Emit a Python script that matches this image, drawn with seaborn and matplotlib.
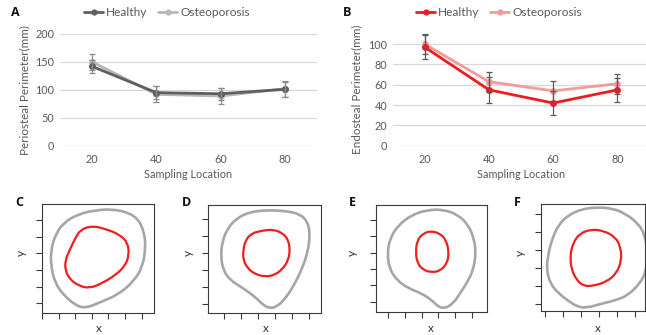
import numpy as np
import pandas as pd
import matplotlib
matplotlib.use("Agg")
import matplotlib.pyplot as plt
from matplotlib.path import Path
from matplotlib.patches import PathPatch
from matplotlib.lines import Line2D
import seaborn as sns

# ---- perimeter along the bone (mean and SD) ----
locations = [20, 40, 60, 80]
groups = ["Healthy", "Osteoporosis"]

peri_healthy = [142, 95, 93, 101]
peri_healthy_sd = [11, 11, 11, 13]
peri_osteo = [150, 92, 89, 102]
peri_osteo_sd = [15, 14, 14, 14]

endo_healthy = [97, 55, 42, 55]
endo_healthy_sd = [12, 12.5, 12, 12]
endo_osteo = [100, 63, 54, 61]
endo_osteo_sd = [10, 10, 10, 10]

peri_ticks = [0, 50, 100, 150, 200]
endo_ticks = [0, 20, 40, 60, 80, 100]

# ---- cross-section outlines (periosteal = outer, endosteal = inner) ----
c_outer_x = [33, 43, 52, 58, 61.4, 62.4, 60.6, 55, 46, 36, 26, 20, 13, 8, 5.4, 5.4, 8, 13, 22]
c_outer_y = [56, 56.4, 54.4, 50.4, 43, 34, 22, 13, 5.4, 1, -3, -1, 5, 12, 22, 32, 41, 48.4, 53.6]
c_inner_x = [23, 30, 39, 47, 51.6, 52.4, 50, 44, 36, 28.6, 22, 16.6, 14, 14, 16.6, 20]
c_inner_y = [44, 46.6, 44.4, 41, 36.4, 29, 22.4, 16.8, 12, 9, 10.6, 14.6, 20, 25.6, 32, 39]

d_outer_x = [15.2, 26, 36.8, 44.7, 49.2, 50.6, 49.6, 46.1, 40.7, 35.4, 30.9, 27, 23, 18.1, 11.2, 3.3, -0.6, -2, -1.2, 2, 7.3]
d_outer_y = [54.5, 55.5, 54.9, 53.1, 48.6, 41.7, 31.9, 21.1, 10.2, 2.4, -1.6, -2.6, -0.6, 4.3, 9.3, 14.2, 20.1, 28, 36.8, 44.7, 50.6]
d_inner_x = [16.1, 22, 28.9, 34.8, 37.8, 38.8, 37.8, 34.8, 29.9, 24, 18.1, 13.8, 11.2, 11.2, 12.6]
d_inner_y = [41.7, 43.3, 44.1, 41.7, 37.8, 31.9, 26, 21.1, 17.1, 16.1, 17.7, 21.1, 26, 31.9, 37.8]

e_outer_x = [23, 33, 42, 48, 51.4, 52.6, 51, 47, 43, 39, 34, 30, 26, 20, 12, 5, 0.6, -0.6, 1, 6, 14]
e_outer_y = [56.1, 56.5, 53.1, 46.9, 38.8, 29.6, 19.4, 11.2, 5.1, -1, -4.1, -3.1, 1, 5.1, 8.2, 13.3, 20.4, 29.6, 38.8, 46.9, 53.1]
e_inner_x = [25.4, 31, 34.6, 36.4, 35.4, 31, 26, 21, 17.4, 16.4, 17.4, 21]
e_inner_y = [43.3, 41.8, 37.8, 30.6, 23.5, 18.8, 18, 19.4, 23.5, 30.6, 37.8, 41.8]

f_outer_x = [12.9, 20.6, 28.7, 37.1, 44.4, 51.8, 55.6, 57.2, 56.1, 52.8, 46.3, 39.8, 32.4, 22.2, 17.6, 14.8, 7.4, 2.8, 0.9, 1.5, 3.7, 7.4]
f_outer_y = [49.4, 52.8, 53.7, 53.2, 50.4, 44.8, 38.3, 27.2, 17.8, 11.5, 5, 2.2, 0.4, -2.4, -1.1, 0.4, 5.9, 11.5, 18.9, 26.3, 35.6, 43.9]
f_inner_x = [25.9, 32.4, 38.9, 42, 42.6, 39.8, 34.3, 26.8, 21.3, 17.6, 14.8, 13.9, 15.4, 19.4]
f_inner_y = [41.5, 40.7, 37.4, 31.8, 24.4, 17, 12.4, 10, 10, 13.3, 18.9, 26.3, 33.7, 39.3]

sns.set_style("white")
plt.rcParams["font.family"] = ["Lato", "DejaVu Sans"]

TEXT = "#595959"
GRID = "#d9d9d9"

fig = plt.figure(figsize=(6.46, 3.35), dpi=100)
W, H = 646.0, 335.0


def axes_px(left, top, right, bottom):
    return fig.add_axes([left / W, 1 - bottom / H, (right - left) / W, (bottom - top) / H])


def line_panel(ax, mean_a, sd_a, mean_b, sd_b, colors, err_color, ticks, ylabel):
    df = pd.DataFrame({
        "loc": locations * 2,
        "value": list(mean_a) + list(mean_b),
        "group": [groups[0]] * 4 + [groups[1]] * 4,
    })
    sns.lineplot(data=df, x="loc", y="value", hue="group", hue_order=groups[::-1],
                 palette={groups[0]: colors[0], groups[1]: colors[1]},
                 marker="o", markersize=5, markeredgewidth=0, linewidth=2,
                 legend=False, ax=ax, zorder=3)
    for m, s in ((mean_a, sd_a), (mean_b, sd_b)):
        ax.errorbar(locations, m, yerr=s, fmt="none", ecolor=err_color,
                    elinewidth=0.9, capsize=2, capthick=0.9, zorder=4)
    ax.set_xlim(10, 90)
    ax.set_xticks(locations)
    ax.set_yticks(ticks)
    ax.grid(axis="y", color=GRID, linewidth=0.9)
    ax.set_axisbelow(True)
    for sp in ax.spines.values():
        sp.set_visible(False)
    ax.tick_params(length=0, labelsize=7.8, labelcolor=TEXT, pad=4)
    ax.tick_params(axis="x", pad=6)
    ax.set_xlabel("Sampling Location", fontsize=7.8, color=TEXT, labelpad=3)
    ax.set_ylabel(ylabel, fontsize=8.4, color=TEXT, labelpad=4)


def add_legend(cx, colors):
    handles = [Line2D([], [], color=c, lw=2, marker="o", markersize=4.5, markeredgewidth=0)
               for c in colors]
    fig.legend(handles, groups, loc="center", bbox_to_anchor=(cx / W, 1 - 13 / H),
               ncol=2, frameon=False, fontsize=8.6, handlelength=1.6, handletextpad=0.25,
               columnspacing=0.9, labelcolor=TEXT)


# A: periosteal perimeter
axA = axes_px(60, 34, 317, 145.7)
line_panel(axA, peri_healthy, peri_healthy_sd, peri_osteo, peri_osteo_sd,
           ("#5f5f5f", "#b8b8b8"), "#8a8a8a", peri_ticks, "Periosteal Perimeter(mm)")
axA.set_ylim(0, 200)
add_legend(167, ("#5f5f5f", "#b8b8b8"))

# B: endosteal perimeter
axB = axes_px(392.7, 32.0, 649.5, 145.7)
line_panel(axB, endo_healthy, endo_healthy_sd, endo_osteo, endo_osteo_sd,
           ("#ee1c1c", "#f49a9a"), "#5a5a5a", endo_ticks, "Endosteal Perimeter(mm)")
axB.set_ylim(0, 112)
add_legend(499, ("#ee1c1c", "#f49a9a"))


def closed_curve(xs, ys):
    pts = np.column_stack([xs, ys])
    mids = (pts + np.roll(pts, -1, axis=0)) / 2
    verts = [mids[-1]]
    codes = [Path.MOVETO]
    for p, m in zip(pts, mids):
        verts += [p, m]
        codes += [Path.CURVE3, Path.CURVE3]
    return Path(verts, codes)


def section_panel(box, xlim, ylim, xticks, yticks, outer, inner, xlab_pos, ylab_pos):
    ax = axes_px(*box)
    ax.set_xlim(*xlim)
    ax.set_ylim(*ylim)
    ax.add_patch(PathPatch(closed_curve(*outer), fill=False, edgecolor="#a6a6a6", lw=1.9,
                           joinstyle="round"))
    ax.add_patch(PathPatch(closed_curve(*inner), fill=False, edgecolor="#f21d1d", lw=1.6,
                           joinstyle="round"))
    ax.set_xticks(xticks)
    ax.set_yticks(yticks)
    ax.set_xticklabels([])
    ax.set_yticklabels([])
    ax.tick_params(direction="out", length=4.5, width=0.8, color="#3a3a3a",
                   bottom=True, left=True)
    for sp in ax.spines.values():
        sp.set_visible(True)
        sp.set_color("#3a3a3a")
        sp.set_linewidth(0.8)
    fig.text(xlab_pos[0] / W, 1 - xlab_pos[1] / H, "x", fontsize=8.5, color="#333333",
             ha="center", va="center")
    fig.text(ylab_pos[0] / W, 1 - ylab_pos[1] / H, "y", fontsize=8.5, color="#333333",
             ha="center", va="center", rotation=90)
    return ax


section_panel((42, 204.3, 154, 312.7), (0, 67.4), (-5.6, 59.4),
              range(0, 61, 10), range(0, 51, 10),
              (c_outer_x, c_outer_y), (c_inner_x, c_inner_y), (99, 328), (21, 253))
section_panel((208.3, 205, 321, 313.3), (-9.4, 57.1), (-5.5, 58.5),
              range(0, 51, 10), range(0, 51, 10),
              (d_outer_x, d_outer_y), (d_inner_x, d_inner_y), (265.5, 328), (188, 253))
section_panel((376, 205, 487.3, 311.7), (-7.4, 59.4), (-6.1, 59.2),
              range(0, 51, 10), range(0, 51, 10),
              (e_outer_x, e_outer_y), (e_inner_x, e_inner_y), (431, 328), (352.5, 253))
section_panel((541.3, 204.3, 645, 311), (-2.1, 55.6), (-3.9, 55.4),
              range(0, 51, 10), range(0, 51, 10),
              (f_outer_x, f_outer_y), (f_inner_x, f_inner_y), (598, 328), (520, 253))

# panel letters
for letter, x, y in (("A", 15, 13), ("B", 347, 13), ("C", 19.5, 202), ("D", 186.5, 202),
                     ("E", 352.5, 203), ("F", 517.5, 203)):
    fig.text(x / W, 1 - y / H, letter, fontsize=9, fontweight="bold", color="#111111",
             ha="center", va="center", family=["Open Sans", "DejaVu Sans"])

fig.savefig("out.png", dpi=100)
